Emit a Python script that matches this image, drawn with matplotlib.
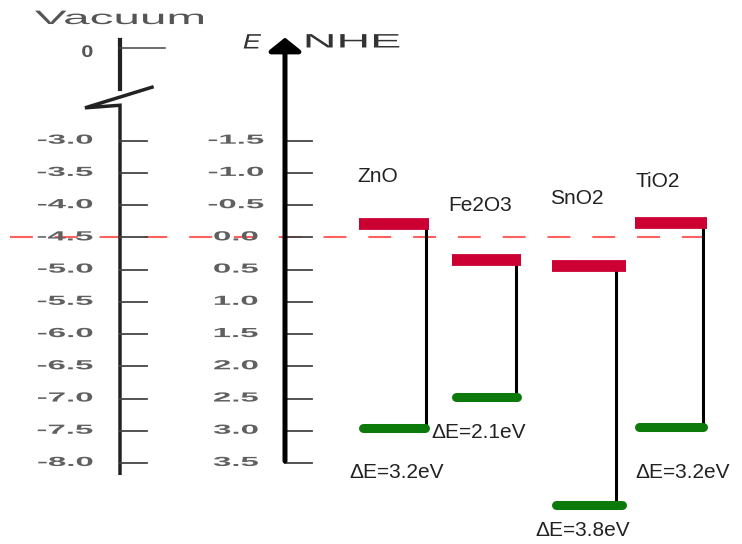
import matplotlib
matplotlib.use('Agg')
import matplotlib.pyplot as plt
from matplotlib.patheffects import AbstractPathEffect
from matplotlib.transforms import Affine2D

# band edges in eV vs vacuum
materials = ['ZnO', 'Fe2O3', 'SnO2', 'TiO2']
cb_vac = [-4.29, -4.85, -4.95, -4.28]
vb_vac = [-7.46, -6.97, -8.65, -7.44]
gap_labels = ['ΔE=3.2eV', 'ΔE=2.1eV', 'ΔE=3.8eV', 'ΔE=3.2eV']

vac_ticks = [-3.0, -3.5, -4.0, -4.5, -5.0, -5.5, -6.0, -6.5, -7.0, -7.5, -8.0]
vac_labels = ['-3.0', '-3.5', '-4.0', '-4.5', '-5.0', '-5.5', '-6.0', '-6.5', '-7.0', '-7.5', '-8.0']
nhe_ticks = [-1.5, -1.0, -0.5, 0.0, 0.5, 1.0, 1.5, 2.0, 2.5, 3.0, 3.5]
nhe_labels = ['-1.5', '-1.0', '-0.5', '0.0', '0.5', '1.0', '1.5', '2.0', '2.5', '3.0', '3.5']
nhe_zero = -4.5  # 0 V NHE on the vacuum scale

# layout (x in pixel-like units)
bar_left = [359, 452, 552, 635]
bar_right = [429, 521, 626, 707]
link_x = [426, 516, 616, 703]
name_pos = [(357, -3.56), (448, -4.00), (550, -3.89), (636, -3.64)]
gap_pos = [(349, -8.14), (431, -7.53), (535, -9.04), (635, -8.15)]
vac_x = 120
nhe_x = 285


class Widen(AbstractPathEffect):
    # stretch text glyphs sideways, the old picture is squashed
    def __init__(self, sx, anchor='left'):
        super().__init__()
        self.sx = sx
        self.anchor = anchor

    def draw_path(self, renderer, gc, tpath, affine, rgbFace=None):
        ext = tpath.get_extents()
        if self.anchor == 'right':
            x0 = ext.x1
        elif self.anchor == 'center':
            x0 = (ext.x0 + ext.x1) / 2
        else:
            x0 = ext.x0
        st = Affine2D().translate(-x0, 0).scale(self.sx, 1).translate(x0, 0)
        renderer.draw_path(gc, tpath, st + affine, rgbFace)


plt.rcParams['font.family'] = ['Liberation Sans', 'DejaVu Sans']

fig = plt.figure(figsize=(7.42, 5.44), dpi=100)
ax = fig.add_axes([0, 0, 1, 1])
ax.set_xlim(0, 742)
ax.set_ylim(-9.257, -0.817)
ax.axis('off')

# reference line at 0 V NHE
ax.plot([10, 718], [nhe_zero, nhe_zero], color='#ff6060', lw=1.5,
        dashes=(11, 10.5), zorder=1)

# vacuum axis with a break
ax.plot([vac_x, vac_x], [-1.44, -2.20], color='#222222', lw=3, zorder=2)
ax.plot([152, 85, vac_x, vac_x], [-2.17, -2.49, -2.45, -8.16],
        color='#222222', lw=2.5, zorder=2, solid_joinstyle='miter')
ax.plot([vac_x, 165], [-1.562, -1.562], color='#444444', lw=1.1)
ax.text(93, -1.63, '0', ha='right', va='center', fontsize=12,
        color='#555555', fontweight='bold', path_effects=[Widen(1.3, 'right')])
ax.text(35, -1.12, 'Vacuum', ha='left', va='center', fontsize=14,
        color='#555555', path_effects=[Widen(2.45, 'left')])

for v, lab in zip(vac_ticks, vac_labels):
    ax.plot([vac_x, vac_x + 27], [v, v], color='#444444', lw=1.3, zorder=2)
    ax.text(93, v, lab, ha='right', va='center', fontsize=9.5,
            color='#606060', fontweight='bold',
            path_effects=[Widen(2.5, 'right')])

# NHE axis with arrow
ax.annotate('', xy=(nhe_x, -1.40), xytext=(nhe_x, -7.97),
            arrowprops=dict(arrowstyle='-|>,head_length=0.8,head_width=1.0',
                            lw=3.6, color='black', shrinkA=0, shrinkB=0,
                            mutation_scale=10))
ax.text(252, -1.484, 'E', ha='center', va='center', fontsize=15,
        style='italic', color='#333333', path_effects=[Widen(1.3, 'center')])
ax.text(305, -1.484, 'NHE', ha='left', va='center', fontsize=14,
        color='#333333', path_effects=[Widen(2.4, 'left')])

for v, lab in zip(nhe_ticks, nhe_labels):
    y = nhe_zero - v
    ax.plot([nhe_x, nhe_x + 27], [y, y], color='#444444', lw=1.3, zorder=2)
    ax.text(236, y, lab, ha='center', va='center', fontsize=9.5,
            color='#606060', fontweight='bold',
            path_effects=[Widen(2.5, 'center')])

# band edges
for i in range(len(materials)):
    ax.plot([link_x[i], link_x[i]], [cb_vac[i], vb_vac[i]], color='black',
            lw=2.2, zorder=3)
    ax.plot([bar_left[i], bar_right[i]], [cb_vac[i], cb_vac[i]],
            color='#cc0033', lw=8.5, solid_capstyle='butt', zorder=4)
    ax.plot([bar_left[i] + 4, bar_right[i] - 4], [vb_vac[i], vb_vac[i]],
            color='#0b7a0b', lw=6.5, solid_capstyle='round', zorder=4)
    ax.text(name_pos[i][0], name_pos[i][1], materials[i], ha='left',
            va='center', fontsize=15, color='#222222')
    ax.text(gap_pos[i][0], gap_pos[i][1], gap_labels[i], ha='left',
            va='center', fontsize=15, color='#222222')

fig.savefig('out.png', dpi=100)
